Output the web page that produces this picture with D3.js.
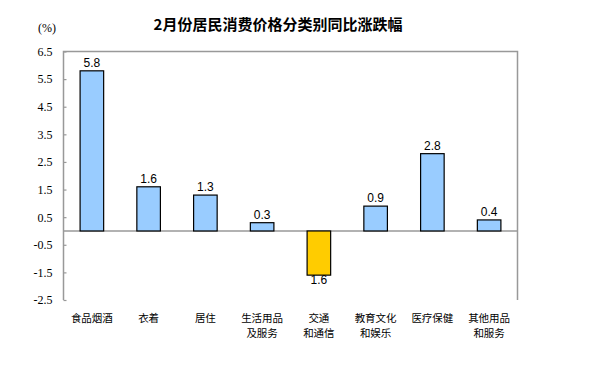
<!DOCTYPE html>
<html><head><meta charset="utf-8">
<script src="https://cdn.jsdelivr.net/npm/d3@7/dist/d3.min.js"></script>
<style>body{margin:0;background:#fff}svg{display:block}</style>
</head><body>
<svg id="c" width="600" height="366"></svg>
<script>
const categories = [["食品烟酒"],["衣着"],["居住"],["生活用品","及服务"],["交通","和通信"],["教育文化","和娱乐"],["医疗保健"],["其他用品","和服务"]];
const values = [5.8, 1.6, 1.3, 0.3, -1.6, 0.9, 2.8, 0.4];
const valueLabels = ["5.8","1.6","1.3","0.3","1.6","0.9","2.8","0.4"];
const tickValues = [6.5, 5.5, 4.5, 3.5, 2.5, 1.5, 0.5, -0.5, -1.5, -2.5];
const tickLabels = ["6.5","5.5","4.5","3.5","2.5","1.5","0.5","-0.5","-1.5","-2.5"];
const title = "2月份居民消费价格分类别同比涨跌幅";
const unit = "(%)";

const svg = d3.select("#c");
const L = 63.5, R = 517.5, T = 51.5, B = 300;
const y = d3.scaleLinear().domain([-2.5, 6.5]).range([B, T]);
const x = d3.scaleBand().domain(d3.range(values.length)).range([L, R]).paddingInner(0.585).paddingOuter(0.2925);

svg.append("text").attr("x", 278).attr("y", 30).attr("text-anchor", "middle")
  .style("font-family", "'Noto Sans CJK SC'").style("font-size", "15px").style("font-weight", "bold")
  .attr("fill", "#000").text(title);
svg.append("text").attr("x", 38).attr("y", 32)
  .style("font-family", "'Liberation Serif'").style("font-size", "12px").attr("fill", "#000").text(unit);

// frame
const g = svg.append("g");
g.append("path").attr("d", `M${L},${B}V${T}H${R}V${B}`).attr("fill", "none").attr("stroke", "#999").attr("stroke-width", 1.5);
// zero line
g.append("line").attr("x1", L).attr("x2", R).attr("y1", y(0)).attr("y2", y(0)).attr("stroke", "#999").attr("stroke-width", 1.5);

// y axis ticks
const yAxis = d3.axisLeft(y).tickValues(tickValues).tickSize(-3).tickPadding(11)
  .tickFormat((d, i) => tickLabels[i]);
const ya = svg.append("g").attr("transform", `translate(${L},0)`).call(yAxis);
ya.select(".domain").remove();
ya.selectAll(".tick line").attr("stroke", "#999").attr("stroke-width", 1.2);
ya.selectAll(".tick text").style("font-family", "'Liberation Serif'").style("font-size", "12px").attr("fill", "#000");

// bars
svg.selectAll("rect.bar").data(values).join("rect").attr("class", "bar")
  .attr("x", (d, i) => x(i)).attr("width", x.bandwidth())
  .attr("y", d => y(Math.max(0, d))).attr("height", d => Math.abs(y(d) - y(0)))
  .attr("fill", d => d < 0 ? "#FFCC00" : "#99CCFF").attr("stroke", "#000").attr("stroke-width", 1.2);

// value labels
svg.selectAll("text.val").data(values).join("text").attr("class", "val")
  .attr("x", (d, i) => x(i) + x.bandwidth() / 2)
  .attr("y", d => d < 0 ? y(d) + 9 : y(d) - 4)
  .attr("text-anchor", "middle")
  .style("font-family", "'Liberation Sans'").style("font-size", "12px").attr("fill", "#000")
  .text((d, i) => valueLabels[i]);

// category labels (one text per line)
const lines = [];
categories.forEach((c, i) => c.forEach((s, j) => lines.push({s, i, j})));
svg.selectAll("text.cat").data(lines).join("text").attr("class", "cat")
  .attr("text-anchor", "middle")
  .attr("x", d => x(d.i) + x.bandwidth() / 2)
  .attr("y", d => 321.5 + d.j * 15)
  .style("font-family", "'Noto Sans CJK SC'").style("font-size", "10.5px").attr("fill", "#000")
  .text(d => d.s);
</script>
</body></html>
